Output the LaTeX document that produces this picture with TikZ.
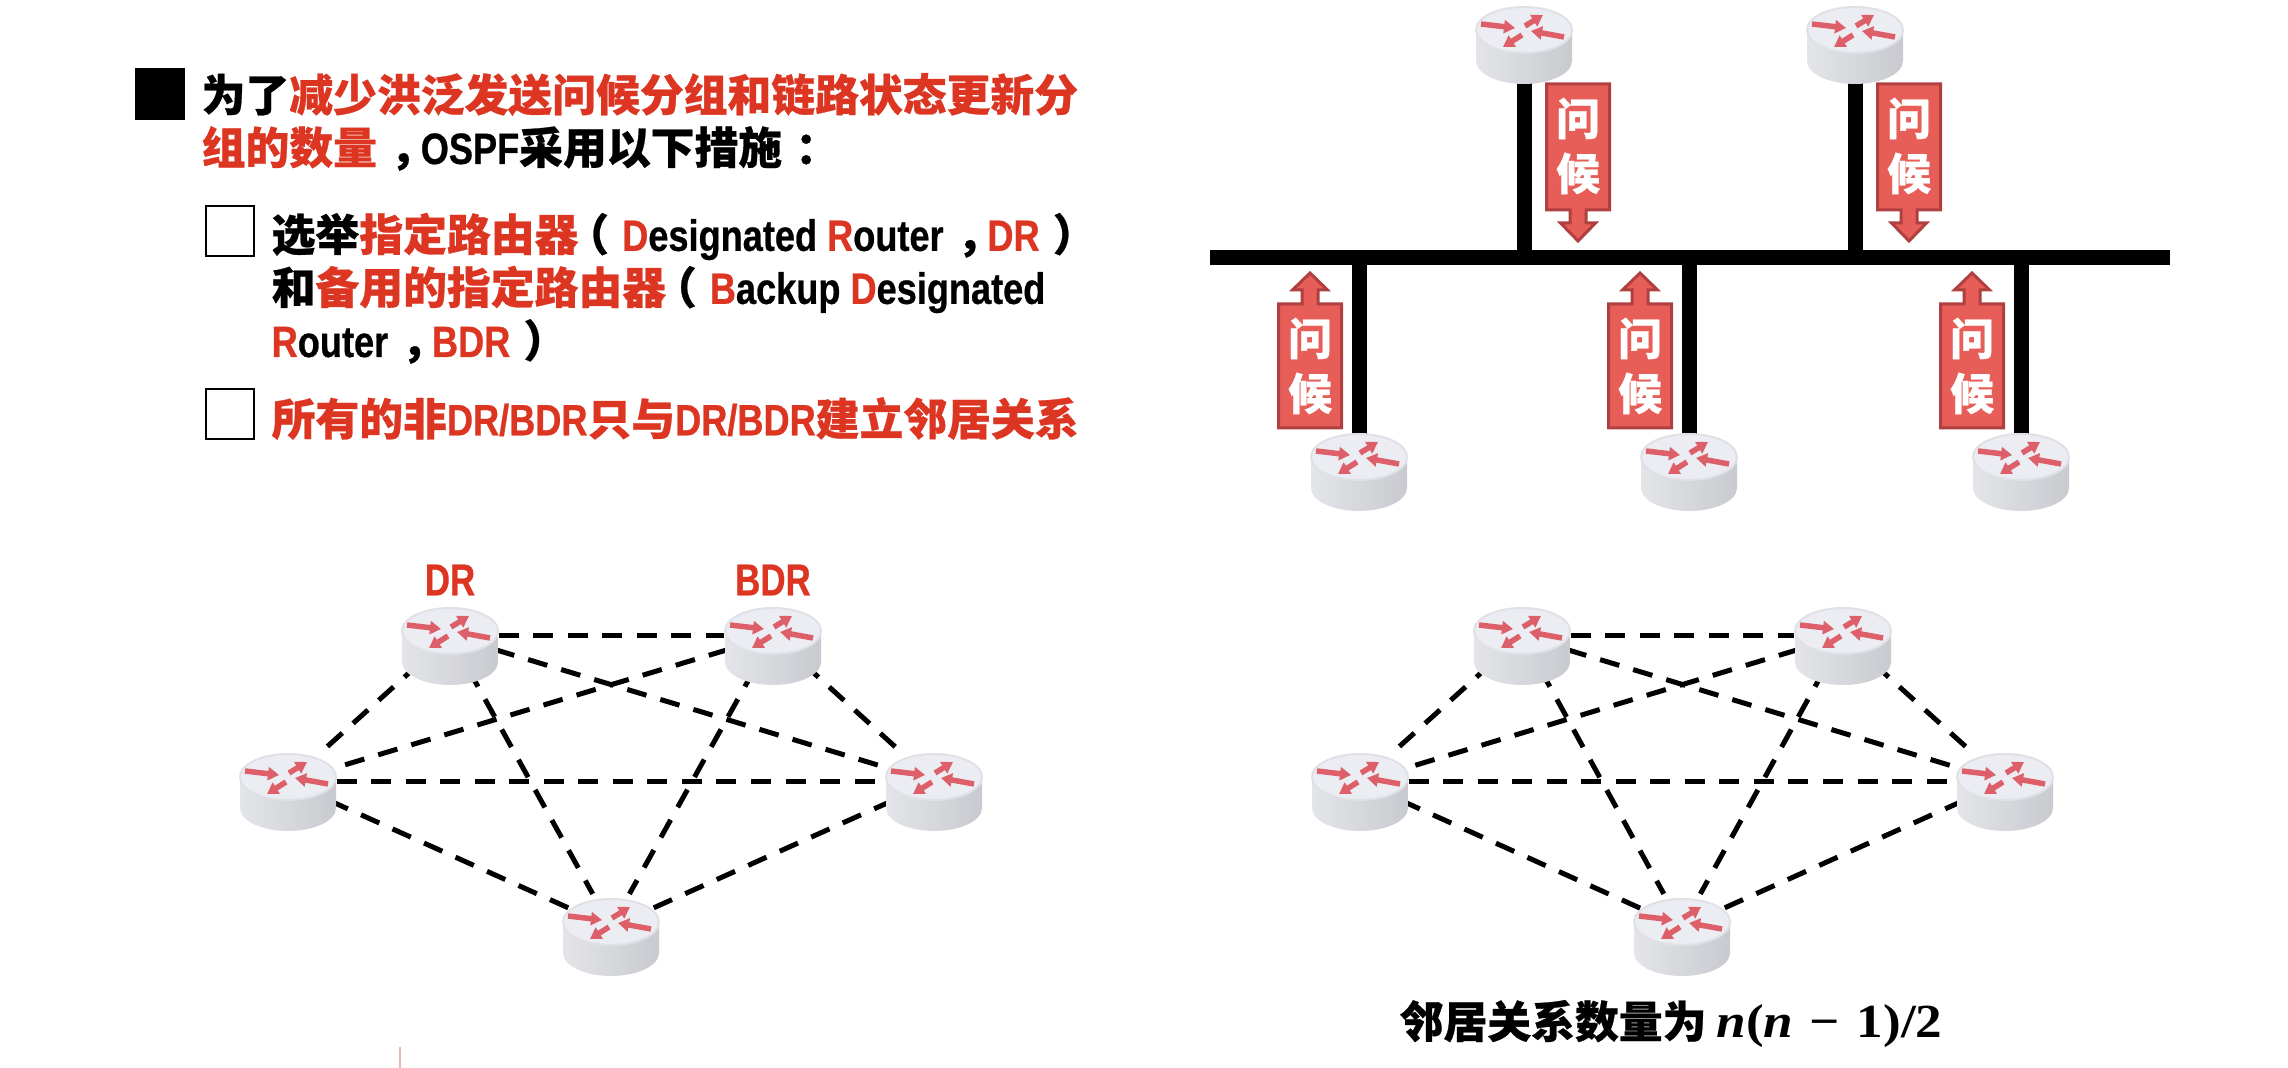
\documentclass[tikz,border=0pt]{standalone}
\usepackage{fontspec}
\usetikzlibrary{shapes.geometric, arrows.meta}
\setmainfont[FakeBold=0.6]{Noto Sans CJK SC}
\newfontfamily\latnfont[FakeStretch=0.825, FakeBold=0.6]{Liberation Sans}
\newfontfamily\labelfont[FakeStretch=0.78, FakeBold=0.6]{Liberation Sans}
\newfontfamily\formulafont[FakeStretch=1.12]{Liberation Serif}
\definecolor{hlred}{RGB}{220,53,34}
\definecolor{routertop}{RGB}{236,237,242}
\definecolor{routeredge}{RGB}{224,225,230}
\definecolor{routerleft}{RGB}{228,229,233}
\definecolor{routerright}{RGB}{201,202,207}
\definecolor{routerarrow}{RGB}{221,95,106}
\definecolor{hellofill}{RGB}{231,93,88}
\definecolor{helloedge}{RGB}{176,64,64}
\newcommand{\hl}[1]{\textcolor{hlred}{#1}}
\newcommand{\la}[1]{{\latnfont #1}}
% centre the full-width marks in their em box
\newcommand{\zcomma}{\hspace{0.3em}，\hspace{-0.3em}}
\newcommand{\zcolon}{\hspace{0.3em}：\hspace{-0.3em}}
\newcommand{\zopen}{\hspace{-0.3em}（\hspace{0.3em}}
\newcommand{\zclose}{\hspace{0.3em}）\hspace{-0.3em}}
\tikzset{
    textline/.style={anchor=west, inner sep=0pt, font=\fontsize{12.46}{15}\selectfont\bfseries},
    routernode/.style={ellipse, minimum width=0.96cm, minimum height=0.7cm, inner sep=0pt},
    busline/.style={line width=0.15cm},
    neighbour/.style={line width=0.05cm, dash pattern=on 0.2cm off 0.145cm},
    checkbox/.style={draw, line width=0.02cm, minimum width=0.48cm, minimum height=0.5cm, inner sep=0pt},
    roleline/.style={font=\fontsize{12.7}{15}\selectfont\bfseries\labelfont, text=hlred, inner sep=0pt},
    routerflow/.style={routerarrow, line width=0.055cm, -{Triangle[length=0.11cm, width=0.13cm]}},
    helloshape/.style={fill=hellofill, draw=helloedge, line width=0.03cm},
    hellotext/.style={text=white, align=center, font=\fontsize{12.46}{15.6}\selectfont\bfseries, inner sep=0pt},
    pics/router/.style={code={
        \path[left color=routerleft, right color=routerright]
            (-48,-5) -- (-48,26) arc (180:0:48 and 23) -- (48,-5) -- cycle;
        \draw[fill=routertop, draw=routeredge, line width=0.02cm] (0,-5) ellipse (48 and 23);
        \draw[routerflow] (-43,-11) -- (-9,-7);
        \draw[routerflow] (1,-9) -- (19,-20);
        \draw[routerflow] (40,2) -- (7,-4);
        \draw[routerflow] (-2,0) -- (-21,12);
    }},
    pics/hellodown/.style={code={
        \draw[helloshape] (-31.5,0) -- (31.5,0) -- (31.5,126) -- (8,126) -- (8,139) -- (17.5,139)
            -- (0,157) -- (-17.5,139) -- (-8,139) -- (-8,126) -- (-31.5,126) -- cycle;
        \node[hellotext] (-text) at (0,62) {问\\候};
    }},
    pics/helloup/.style={code={
        \draw[helloshape] (0,0) -- (17.5,17) -- (8,17) -- (8,31) -- (31.5,31) -- (31.5,155)
            -- (-31.5,155) -- (-31.5,31) -- (-8,31) -- (-8,17) -- (-17.5,17) -- cycle;
        \node[hellotext] (-text) at (0,93) {问\\候};
    }},
}

\begin{document}
\begin{tikzpicture}[x=0.01cm, y=-0.01cm]
    \useasboundingbox (0,0) rectangle (2288,1068);

    % Text block
    \node[fill=black, minimum width=0.5cm, minimum height=0.52cm, inner sep=0pt] (bullet) at (160,94) {};
    \node[textline] (line1) at (201,94.5) {为了\hl{减少洪泛发送问候分组和链路状态更新分}};
    \node[textline] (line2) at (201,148.5) {\hl{组的数量}\zcomma\la{OSPF}采用以下措施\zcolon};
    \node[checkbox] (box1) at (230,231) {};
    \node[textline] (line3) at (271,236.5) {选举\hl{指定路由器}\zopen\la{\hl{D}esignated \hl{R}outer}\zcomma\la{\hl{DR}}\zclose};
    \node[textline] (line4) at (271,289.5) {和\hl{备用的指定路由器}\zopen\la{\hl{B}ackup \hl{D}esignated}};
    \node[textline] (line5) at (271,341.5) {\la{\hl{R}outer}\zcomma\la{\hl{BDR}}\zclose};
    \node[checkbox] (box2) at (230,414) {};
    \node[textline] (line6) at (271,418.5) {\hl{所有的非\la{DR/BDR}只与\la{DR/BDR}建立邻居关系}};

    % Routers on the shared link
    \foreach \name/\x/\y in {up1/1524/35, up2/1855/35, low1/1359/462, low2/1689/462, low3/2021/462} {
        \node[routernode] (\name) at (\x,\y) {};
    }
    \coordinate (busl) at (1210,257.5);
    \coordinate (busr) at (2170,257.5);
    \foreach \name in {up1, up2, low1, low2, low3} {
        \draw[busline] (\name.center) -- (\name.center |- busl);
    }
    \draw[busline] (busl) -- (busr);
    \foreach \name in {up1, up2, low1, low2, low3} {
        \pic at (\name) {router};
    }
    \pic (hello1) at (1578,84) {hellodown};
    \pic (hello2) at (1909,84) {hellodown};
    \pic (hello3) at (1310,273) {helloup};
    \pic (hello4) at (1640,273) {helloup};
    \pic (hello5) at (1972,273) {helloup};

    % Two full meshes
    \foreach \name/\x/\y in {dr/450/636, bdr/773/636, la/288/782, lb/934/782, lc/611/927,
                             ra/1522/636, rb/1843/636, rc/1360/782, rd/2005/782, re/1682/927} {
        \node[routernode] (\name) at (\x,\y) {};
    }
    \foreach \a/\b in {dr/bdr, dr/la, dr/lb, dr/lc, bdr/la, bdr/lb, bdr/lc, la/lb, la/lc, lb/lc,
                       ra/rb, ra/rc, ra/rd, ra/re, rb/rc, rb/rd, rb/re, rc/rd, rc/re, rd/re} {
        \draw[neighbour] (\a) -- (\b);
    }
    \foreach \name in {dr, bdr, la, lb, lc, ra, rb, rc, rd, re} {
        \pic at (\name) {router};
    }
    \node[roleline] (drlabel) at (450,580) {DR};
    \node[roleline] (bdrlabel) at (773,580) {BDR};

    \node[textline] (count) at (1399,1024) {邻居关系数量为\hspace{0.23em}{\formulafont\fontsize{13.5}{15}\selectfont{\itshape n}({\itshape n}\hspace{0.35em}−\hspace{0.35em}1)/2}};

    \coordinate (marktop) at (400,1047);
    \coordinate (markbot) at (400,1068);
    \draw[hlred!35, line width=0.02cm] (marktop) -- (markbot);
\end{tikzpicture}
\end{document}
